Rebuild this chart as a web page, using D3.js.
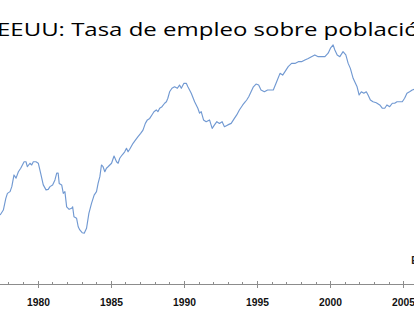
<!DOCTYPE html>
<html>
<head>
<meta charset="utf-8">
<script src="https://cdn.jsdelivr.net/npm/d3@7"></script>
<style>
  html, body { margin: 0; padding: 0; background: #fff; }
  svg { display: block; }
</style>
</head>
<body>
<svg id="chart" width="414" height="311"></svg>
<script>
const titleText = "EEUU: Tasa de empleo sobre población";
const legendText = "E";
const majorYears = [1980, 1985, 1990, 1995, 2000, 2005];
const minorYears = d3.range(1976, 2008);

const years = [
  1977.43,1977.65,1977.82,1977.93,1978.11,1978.23,1978.38,1978.52,1978.68,1978.84,
  1979.07,1979.20,1979.29,1979.47,1979.59,1979.70,1979.88,1980.04,1980.20,1980.38,
  1980.57,1980.72,1980.84,1981.02,1981.18,1981.30,1981.40,1981.47,1981.64,1981.75,
  1981.86,1981.98,1982.15,1982.32,1982.39,1982.48,1982.66,1982.77,1982.88,1983.04,
  1983.18,1983.34,1983.50,1983.68,1983.86,1984.02,1984.13,1984.25,1984.36,1984.47,
  1984.59,1984.70,1984.81,1985.05,1985.22,1985.39,1985.50,1985.61,1985.77,1985.95,
  1986.07,1986.18,1986.29,1986.52,1986.68,1986.86,1987.04,1987.20,1987.36,1987.50,
  1987.66,1987.81,1987.95,1988.11,1988.22,1988.34,1988.50,1988.68,1988.80,1988.90,
  1989.02,1989.18,1989.36,1989.55,1989.70,1989.82,1990.00,1990.16,1990.27,1990.50,
  1990.73,1990.95,1991.07,1991.18,1991.34,1991.52,1991.75,1991.93,1992.09,1992.25,
  1992.43,1992.61,1992.77,1993.00,1993.23,1993.45,1993.61,1993.79,1994.02,1994.20,
  1994.29,1994.43,1994.59,1994.75,1994.93,1995.11,1995.27,1995.50,1995.72,1996.11,
  1996.34,1996.57,1996.75,1996.91,1997.13,1997.36,1997.59,1997.82,1998.04,1998.27,
  1998.50,1998.72,1998.95,1999.18,1999.40,1999.64,1999.86,2000.02,2000.20,2000.32,
  2000.48,2000.66,2000.88,2001.07,2001.23,2001.38,2001.57,2001.68,2001.84,2001.98,
  2002.13,2002.30,2002.47,2002.59,2002.75,2002.93,2003.15,2003.39,2003.56,2003.73,
  2003.88,2004.07,2004.25,2004.41,2004.57,2004.75,2004.93,2005.09,2005.25,2005.43,
  2005.61,2005.79
];
const ratio = [
  57.81,58.01,58.48,58.68,58.75,58.95,59.42,59.29,59.55,59.69,
  59.95,59.95,59.75,59.89,59.82,59.95,59.95,59.89,59.49,59.02,
  58.82,58.84,58.95,59.02,59.22,59.49,59.49,59.08,59.02,58.68,
  58.75,58.14,58.04,58.08,58.14,57.74,57.68,57.34,57.21,57.10,
  57.08,57.28,57.88,58.28,58.61,58.75,59.08,59.35,59.82,59.75,
  59.55,59.69,59.75,59.89,60.18,59.95,59.89,60.09,60.22,60.35,
  60.49,60.35,60.45,60.69,60.82,60.96,61.09,61.22,61.49,61.63,
  61.69,61.83,61.96,62.03,61.96,62.10,62.16,62.30,62.36,62.50,
  62.76,62.90,62.96,62.90,63.03,62.90,63.10,63.10,62.96,62.70,
  62.36,62.10,61.90,61.96,61.63,61.56,61.63,61.29,61.43,61.56,
  61.49,61.56,61.36,61.43,61.49,61.69,61.83,62.03,62.23,62.36,
  62.43,62.56,62.76,62.96,63.07,63.03,62.83,62.76,62.83,62.83,
  63.16,63.50,63.43,63.57,63.77,63.90,63.90,63.97,63.97,64.04,
  64.10,64.17,64.24,64.17,64.17,64.17,64.31,64.51,64.64,64.44,
  64.24,64.17,64.37,64.24,63.90,63.70,63.30,63.16,62.96,62.63,
  62.76,62.70,62.76,62.63,62.43,62.36,62.32,62.23,62.10,62.10,
  62.23,62.16,62.30,62.30,62.36,62.36,62.36,62.50,62.70,62.76,
  62.83,62.87
];

const svg = d3.select("#chart");
const x = d3.scaleLinear().domain([1980, 2005]).range([37.7, 403.3]);
const y = d3.scaleLinear().domain([55, 65]).range([285, 36]);
const axisY = 284.5;

// Title
const title = svg.append("text")
  .attr("x", 0).attr("y", 0)
  .attr("font-family", "'Open Sans', Lato, sans-serif")
  .attr("font-size", 18.8)
  .attr("fill", "#000")
  .text(titleText);
const prefixLen = title.node().getSubStringLength(0, titleText.indexOf("ó"));
const sx = 407 / prefixLen;
title.attr("transform", `translate(-3,35.7) scale(${sx},1)`);

// Axis line
svg.append("line")
  .attr("x1", x(1976)).attr("x2", x(2007))
  .attr("y1", axisY).attr("y2", axisY)
  .attr("stroke", "#8c8c8c").attr("stroke-width", 1);

// Minor ticks (upward)
svg.append("g").selectAll("line")
  .data(minorYears.filter(d => !majorYears.includes(d)))
  .join("line")
  .attr("x1", d => Math.round(x(d)) + 0.5).attr("x2", d => Math.round(x(d)) + 0.5)
  .attr("y1", axisY - 2.5).attr("y2", axisY)
  .attr("stroke", "#8c8c8c").attr("stroke-width", 1);

// Major ticks (crossing)
const majors = svg.append("g").selectAll("g")
  .data(majorYears).join("g")
  .attr("transform", d => `translate(${Math.round(x(d)) + 0.5},0)`);
majors.append("line")
  .attr("y1", axisY - 3.5).attr("y2", axisY + 3.5)
  .attr("stroke", "#8c8c8c").attr("stroke-width", 1);
majors.append("text")
  .attr("y", 305.5)
  .attr("text-anchor", "middle")
  .attr("font-family", "'Liberation Sans', Arial, sans-serif")
  .attr("font-weight", "bold")
  .attr("font-size", 10.3)
  .attr("fill", "#111")
  .text(d => d);

// Data line
const line = d3.line()
  .x((d, i) => x(years[i]))
  .y(d => y(d));
svg.append("path")
  .datum(ratio)
  .attr("d", line)
  .attr("fill", "none")
  .attr("stroke", "#7199d2")
  .attr("stroke-width", 1.15)
  .attr("stroke-linejoin", "round");

// Partially visible legend text at right edge
svg.append("text")
  .attr("x", 411.3).attr("y", 264.3)
  .attr("font-family", "'Liberation Sans', Arial, sans-serif")
  .attr("font-weight", "bold")
  .attr("font-size", 10)
  .attr("fill", "#222")
  .text(legendText);
</script>
</body>
</html>
